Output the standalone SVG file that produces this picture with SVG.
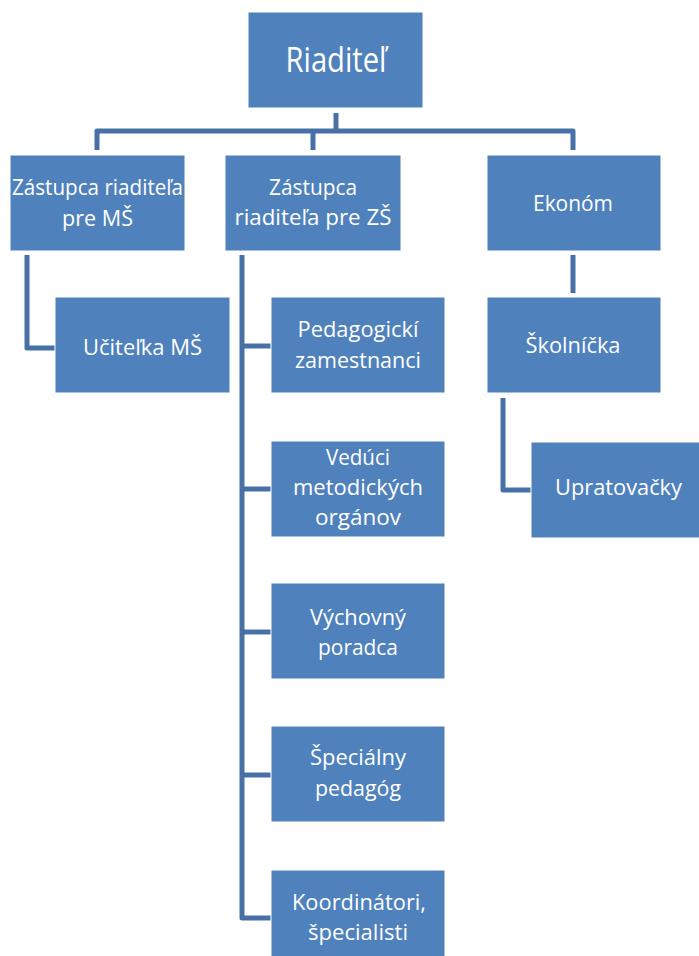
<svg xmlns="http://www.w3.org/2000/svg" width="699" height="956" viewBox="0 0 699 956">
<style>
.box{fill:#4F81BD;stroke:#ffffff;stroke-width:1}
.t{fill:#ffffff;font-family:"Open Sans","Noto Sans","Liberation Sans",sans-serif;font-size:21px;text-anchor:middle}
.big{font-size:35px}
.c{fill:none;stroke:#4670A6;stroke-width:5;stroke-linejoin:round}
</style>
<rect width="699" height="956" fill="#ffffff"/>
<g id="connectors">
<path class="c" d="M336,113 V131"/>
<path class="c" d="M97,150 V131 H573 V150"/>
<path class="c" d="M313,131 V150"/>
<path class="c" d="M27,255 V348 H55"/>
<path class="c" d="M242,255 V918 H271"/>
<path class="c" d="M242,346 H271"/>
<path class="c" d="M242,489 H271"/>
<path class="c" d="M242,632 H271"/>
<path class="c" d="M242,775 H271"/>
<path class="c" d="M573,255 V293"/>
<path class="c" d="M503,398 V490 H531"/>
</g>
<g id="riaditel"><rect class="box" x="248" y="12" width="175" height="96"/><text class="t big" x="336" y="72" textLength="101" lengthAdjust="spacingAndGlyphs">Riaditeľ</text></g>
<g id="zastupca-ms"><rect class="box" x="10" y="155" width="175" height="96"/><text class="t" x="97.5" y="195" textLength="171" lengthAdjust="spacingAndGlyphs">Zástupca riaditeľa</text><text class="t" x="97.5" y="226" textLength="71" lengthAdjust="spacingAndGlyphs">pre MŠ</text></g>
<g id="zastupca-zs"><rect class="box" x="225" y="155" width="176" height="96"/><text class="t" x="313" y="195" textLength="88" lengthAdjust="spacingAndGlyphs">Zástupca</text><text class="t" x="313" y="225" textLength="157" lengthAdjust="spacingAndGlyphs">riaditeľa pre ZŠ</text></g>
<g id="ekonom"><rect class="box" x="487" y="155" width="174" height="96"/><text class="t" x="573" y="211" textLength="80" lengthAdjust="spacingAndGlyphs">Ekonóm</text></g>
<g id="ucitelka"><rect class="box" x="55" y="297" width="175" height="96"/><text class="t" x="142.5" y="355" textLength="119" lengthAdjust="spacingAndGlyphs">Učiteľka MŠ</text></g>
<g id="pedagogicki"><rect class="box" x="271" y="297" width="174" height="96"/><text class="t" x="358" y="337" textLength="121" lengthAdjust="spacingAndGlyphs">Pedagogickí</text><text class="t" x="358" y="368" textLength="126" lengthAdjust="spacingAndGlyphs">zamestnanci</text></g>
<g id="veduci"><rect class="box" x="271" y="441" width="174" height="96"/><text class="t" x="358" y="465" textLength="64" lengthAdjust="spacingAndGlyphs">Vedúci</text><text class="t" x="358" y="495" textLength="130" lengthAdjust="spacingAndGlyphs">metodických</text><text class="t" x="358" y="525" textLength="86" lengthAdjust="spacingAndGlyphs">orgánov</text></g>
<g id="vychovny"><rect class="box" x="271" y="583" width="174" height="96"/><text class="t" x="358" y="625" textLength="96" lengthAdjust="spacingAndGlyphs">Výchovný</text><text class="t" x="358" y="655" textLength="80" lengthAdjust="spacingAndGlyphs">poradca</text></g>
<g id="specialny"><rect class="box" x="271" y="726" width="174" height="96"/><text class="t" x="358" y="765" textLength="96" lengthAdjust="spacingAndGlyphs">Špeciálny</text><text class="t" x="358" y="796" textLength="86" lengthAdjust="spacingAndGlyphs">pedagóg</text></g>
<g id="koordinatori"><rect class="box" x="271" y="870" width="174" height="96"/><text class="t" x="359" y="910" textLength="134" lengthAdjust="spacingAndGlyphs">Koordinátori,</text><text class="t" x="358" y="940" textLength="100" lengthAdjust="spacingAndGlyphs">špecialisti</text></g>
<g id="skolnicka"><rect class="box" x="487" y="297" width="174" height="96"/><text class="t" x="573" y="353" textLength="95" lengthAdjust="spacingAndGlyphs">Školníčka</text></g>
<g id="upratovacky"><rect class="box" x="531" y="442" width="175" height="96"/><text class="t" x="618.5" y="495" textLength="127" lengthAdjust="spacingAndGlyphs">Upratovačky</text></g>
</svg>
